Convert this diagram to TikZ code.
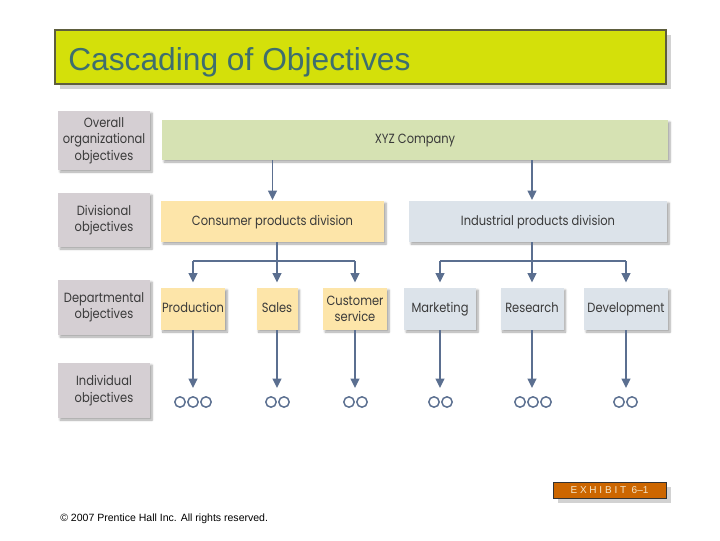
\documentclass[tikz,border=0pt]{standalone}
\usepackage{fontspec}
\setmainfont{Liberation Sans}
\newfontfamily\fut[FakeStretch=0.86]{Poppins}
\usetikzlibrary{arrows.meta,shadows.blur}
\definecolor{titlefill}{HTML}{D4E00A}
\definecolor{titleline}{HTML}{5E5E3E}
\definecolor{titletext}{HTML}{3E6E6E}
\definecolor{labfill}{HTML}{D5CFD3}
\definecolor{greenfill}{HTML}{D6E2B3}
\definecolor{orangefill}{HTML}{FDE5A9}
\definecolor{bluefill}{HTML}{DCE3EA}
\definecolor{arrowc}{HTML}{5B6F90}
\definecolor{txt}{HTML}{3A3A3A}
\definecolor{exfill}{HTML}{CC6600}
\definecolor{extext}{HTML}{F5E6C8}
\definecolor{greyshadow}{HTML}{D2D2D2}
\tikzset{
  softshadow/.style={blur shadow={shadow xshift=1.5pt, shadow yshift=-1.5pt, shadow blur steps=6, shadow blur radius=1.5pt, shadow opacity=35}},
  base/.style={rectangle, inner sep=1pt, align=center, text=txt, font=\fut\fontsize{10}{12.3}\selectfont, softshadow},
  oneline/.style={text height=7.5pt, text depth=2pt},
  lab/.style={base, fill=labfill, minimum width=69pt},
  dept/.style={base, minimum height=31.5pt},
  conn/.style={draw=arrowc, line width=1.4pt, -{Triangle[width=6.5pt,length=7pt]}},
  bar/.style={draw=arrowc, line width=1.4pt},
  dot/.style={circle, draw=arrowc, line width=1.1pt, minimum size=7.8pt, inner sep=0pt},
}
\begin{document}
\begin{tikzpicture}[x=0.75pt,y=-0.75pt]
\useasboundingbox (0,0) rectangle (720,540);
% title
\fill[greyshadow] (60,35) rectangle (671,89);
\node[draw=titleline, line width=0.8pt, fill=titlefill, minimum width=458.25pt, minimum height=40.5pt, inner sep=0pt] (title) at (360.5,57) {};
\node[anchor=base west, text=titletext, font=\fontsize{23.8}{26}\selectfont, inner sep=0pt] (ttext) at (68,70) {Cascading of Objectives};
% level labels
\node[lab, minimum height=44.25pt] (l1) at (104,140.5) {Overall\\organizational\\objectives};
\node[lab, minimum height=40.5pt] (l2) at (104,220) {Divisional\\objectives};
\node[lab, minimum height=41.25pt] (l3) at (104,307.5) {Departmental\\objectives};
\node[lab, minimum height=41.25pt] (l4) at (104,390.5) {Individual\\objectives};
% company
\node[base, oneline, fill=greenfill, minimum width=379.5pt, minimum height=30pt] (xyz) at (415,140) {XYZ Company};
% divisions
\node[base, oneline, fill=orangefill, minimum width=167.25pt, minimum height=30.75pt] (cons) at (272.5,221.5) {Consumer products division};
\node[base, oneline, fill=bluefill, minimum width=193.5pt, minimum height=30.75pt] (ind) at (538,221.5) {Industrial products division};
% departments
\node[dept, oneline, fill=orangefill, minimum width=48pt] (prod) at (193,309) {Production};
\node[dept, oneline, fill=orangefill, minimum width=30.75pt] (sales) at (277,309) {Sales};
\node[dept, fill=orangefill, minimum width=48pt] (cust) at (355,309) {Customer\\service};
\node[dept, oneline, fill=bluefill, minimum width=54pt] (mkt) at (440,309) {Marketing};
\node[dept, oneline, fill=bluefill, minimum width=47.25pt] (res) at (532,309) {Research};
\node[dept, oneline, fill=bluefill, minimum width=63pt] (dev) at (626,309) {Development};
% bar coordinates
\coordinate (cbar) at (0,261);
\coordinate (ibar) at (0,261);
% arrows company -> divisions
\draw[conn, shorten >=0.5pt] (xyz.south -| cons) -- (cons.north);
\draw[conn, shorten >=0.5pt] (xyz.south -| res) -- (ind.north -| res);
% consumer -> departments
\draw[bar] (cons.south -| sales) -- (cbar -| sales);
\draw[bar] (cbar -| prod) -- (cbar -| cust);
\draw[conn, shorten >=4pt] (cbar -| prod) -- (prod.north);
\draw[conn, shorten >=4pt] (cbar -| sales) -- (sales.north);
\draw[conn, shorten >=4pt] (cbar -| cust) -- (cust.north);
% industrial -> departments
\draw[bar] (ind.south -| res) -- (ibar -| res);
\draw[bar] (ibar -| mkt) -- (ibar -| dev);
\draw[conn, shorten >=4pt] (ibar -| mkt) -- (mkt.north);
\draw[conn, shorten >=4pt] (ibar -| res) -- (res.north);
\draw[conn, shorten >=4pt] (ibar -| dev) -- (dev.north);
% individuals
\coordinate (t1) at (193,388);
\coordinate (t2) at (277,388);
\coordinate (t3) at (355,388);
\coordinate (t4) at (440,388);
\coordinate (t5) at (532,388);
\coordinate (t6) at (626,388);
\draw[conn] (prod.south) -- (t1);
\draw[conn] (sales.south) -- (t2);
\draw[conn] (cust.south) -- (t3);
\draw[conn] (mkt.south) -- (t4);
\draw[conn] (res.south) -- (t5);
\draw[conn] (dev.south) -- (t6);
\node[dot] (d1a) at (180,402) {};
\node[dot] (d1b) at (193,402) {};
\node[dot] (d1c) at (206,402) {};
\node[dot] (d2a) at (271,402) {};
\node[dot] (d2b) at (284,402) {};
\node[dot] (d3a) at (349,402) {};
\node[dot] (d3b) at (362,402) {};
\node[dot] (d4a) at (434,402) {};
\node[dot] (d4b) at (447,402) {};
\node[dot] (d5a) at (520,402) {};
\node[dot] (d5b) at (533,402) {};
\node[dot] (d5c) at (546,402) {};
\node[dot] (d6a) at (619,402) {};
\node[dot] (d6b) at (632,402) {};
% exhibit
\fill[greyshadow] (558,487) rectangle (671,503);
\node[draw=black!80, line width=0.6pt, fill=exfill, minimum width=84.75pt, minimum height=12pt, inner sep=0pt, text=extext, font=\fontsize{7.5}{8}\selectfont] (ex) at (609.5,490) {E X H I B I T\ \ 6--1};
% copyright
\node[anchor=base west, inner sep=0pt, font=\fontsize{7.9}{9}\selectfont, text=black] (copy) at (60,521) {\textcopyright\ 2007 Prentice Hall Inc. All rights reserved.};
\end{tikzpicture}
\end{document}
